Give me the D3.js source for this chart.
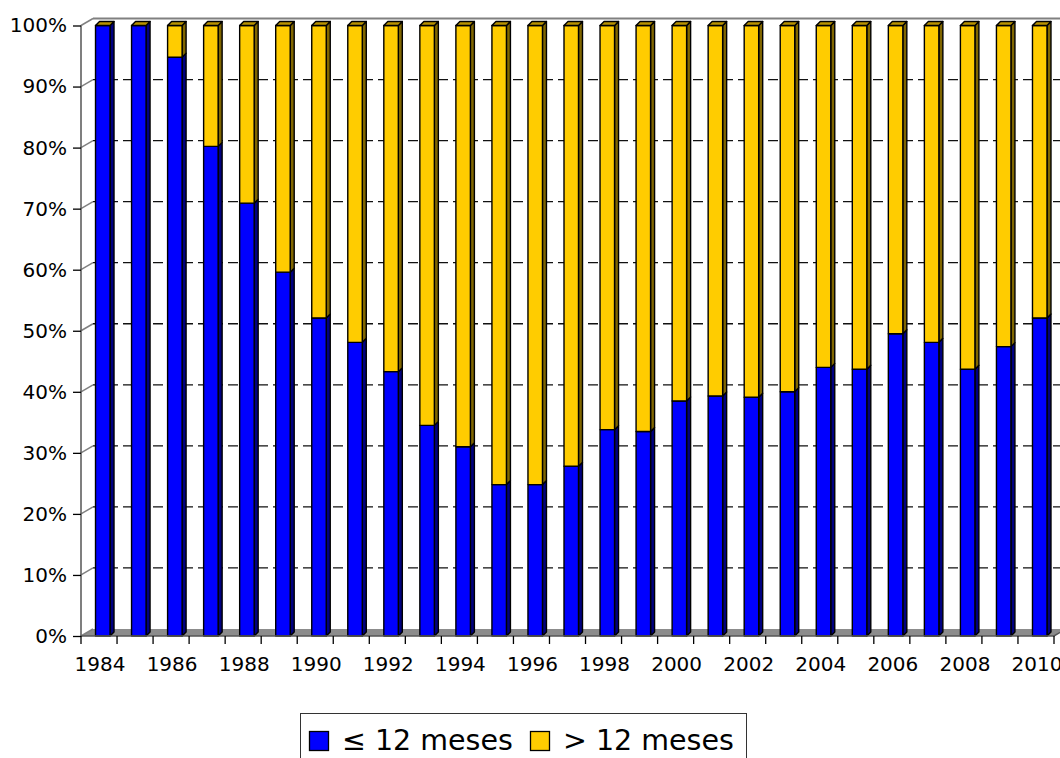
<!DOCTYPE html>
<html>
<head>
<meta charset="utf-8">
<script src="https://cdn.jsdelivr.net/npm/d3@7"></script>
<style>
  body { margin: 0; background: #fff; }
  svg text { font-family: "DejaVu Sans", Verdana, sans-serif; fill: #000; }
</style>
</head>
<body>
<div class="svg_container"></div>
<script>
// data (share of cases, %)
var years = [1984, 1985, 1986, 1987, 1988, 1989, 1990, 1991, 1992, 1993, 1994, 1995, 1996, 1997,
             1998, 1999, 2000, 2001, 2002, 2003, 2004, 2005, 2006, 2007, 2008, 2009, 2010];
var upTo12 = [100, 100, 94.8, 80.2, 70.9, 59.6, 52.1, 48.1, 43.3, 34.5, 31.0, 24.8, 24.8, 27.8,
              33.8, 33.5, 38.5, 39.3, 39.1, 40.0, 44.0, 43.7, 49.5, 48.1, 43.7, 47.4, 52.1];
var seriesNames = ["\u2264 12 meses", "> 12 meses"];
var yTicks = [0, 10, 20, 30, 40, 50, 60, 70, 80, 90, 100];

const WIDTH = 1060;
const HEIGHT = 758;
const LEFT = 81, RIGHT = 1054, TOP = 25.5, BOTTOM = 636;
const DX = 12, DY = -7;        // wall depth
const BX = 4, BY = -4;         // bar depth
const BAR_W = 14.5;

var colors = {
  blue: "#0000ff", blueSide: "#000080",
  yellow: "#ffcc00", yellowSide: "#806600", yellowTop: "#b89200"
};

var translate = function (x, y) {
  return "translate(" + x + "," + y + ")";
};

var _xScale = d3.scaleBand().domain(years).range([LEFT, RIGHT]).padding(0);
var _yScale = d3.scaleLinear().domain([0, 100]).range([BOTTOM, TOP]);

var pts = function (arr) {
  return arr.map(function (p) { return p[0] + "," + p[1]; }).join(" ");
};

var drawWalls = function (svg) {
  var g = svg.append("g").attr("class", "walls");

  // floor
  g.append("polygon")
    .attr("points", pts([[LEFT, BOTTOM], [RIGHT, BOTTOM], [RIGHT + DX, BOTTOM + DY], [LEFT + DX, BOTTOM + DY]]))
    .attr("fill", "#8c8c8c");

  // dashed gridlines on the back wall
  g.selectAll(".grid").data(yTicks.filter(function (d) { return d > 0 && d < 100; }))
    .enter().append("line")
    .attr("x1", LEFT + DX).attr("x2", WIDTH)
    .attr("y1", function (d) { return _yScale(d) + DY; })
    .attr("y2", function (d) { return _yScale(d) + DY; })
    .attr("stroke", "#111").attr("stroke-width", 1.3)
    .attr("stroke-dasharray", "10,5");

  // left wall slants
  g.selectAll(".slant").data(yTicks)
    .enter().append("line")
    .attr("x1", LEFT).attr("x2", LEFT + DX)
    .attr("y1", function (d) { return _yScale(d); })
    .attr("y2", function (d) { return _yScale(d) + DY; })
    .attr("stroke", "#808080").attr("stroke-width", 1.5);

  // back wall top edge
  g.append("line")
    .attr("x1", LEFT + DX).attr("x2", WIDTH)
    .attr("y1", _yScale(100) + DY).attr("y2", _yScale(100) + DY)
    .attr("stroke", "#808080").attr("stroke-width", 2);
};

var drawBars = function (svg) {
  var g = svg.append("g").attr("class", "bars")
    .attr("stroke", "#000").attr("stroke-width", 1.4).attr("stroke-linejoin", "round");

  var bars = g.selectAll(".bar").data(years).enter().append("g").attr("class", "bar");

  bars.each(function (year, i) {
    var b = d3.select(this);
    var x0 = _xScale(year) + _xScale.bandwidth() / 2 - 3.5;
    var x1 = x0 + BAR_W;
    var y0 = _yScale(0);
    var yb = _yScale(upTo12[i]);
    var yt = _yScale(100);

    // blue segment
    b.append("polygon").attr("points", pts([[x1, y0], [x1 + BX, y0 + BY], [x1 + BX, yb + BY], [x1, yb]]))
      .attr("fill", colors.blueSide);
    b.append("rect").attr("x", x0).attr("y", yb).attr("width", BAR_W).attr("height", y0 - yb)
      .attr("fill", colors.blue);

    // yellow segment
    if (upTo12[i] < 100) {
      b.append("polygon").attr("points", pts([[x1, yb], [x1 + BX, yb + BY], [x1 + BX, yt + BY], [x1, yt]]))
        .attr("fill", colors.yellowSide);
      b.append("rect").attr("x", x0).attr("y", yt).attr("width", BAR_W).attr("height", yb - yt)
        .attr("fill", colors.yellow);
    }
    b.append("polygon").attr("points", pts([[x0, yt], [x1, yt], [x1 + BX, yt + BY], [x0 + BX, yt + BY]]))
      .attr("fill", colors.yellowTop);
  });
};

var loadAxis = function (svg) {
  // front axis lines
  svg.append("path")
    .attr("d", "M" + LEFT + "," + _yScale(100) + "V" + BOTTOM + "H" + RIGHT + "L" + (RIGHT + DX) + "," + (BOTTOM + DY))
    .attr("fill", "none").attr("stroke", "#555").attr("stroke-width", 1.5);

  var yAxis = d3.axisLeft(_yScale)
    .tickValues(yTicks)
    .tickSize(8)
    .tickPadding(6)
    .tickFormat(function (d) { return d + "%"; });

  var ya = svg.append("g").attr("transform", translate(LEFT, 0)).call(yAxis);
  ya.select(".domain").remove();
  ya.selectAll("line").attr("stroke", "#000").attr("stroke-width", 1.3);
  ya.selectAll("text").attr("font-size", "20px").attr("fill", "#000")
    .style("font-family", "'DejaVu Sans', Verdana, sans-serif");

  // boundary ticks on the category axis
  var bounds = years.map(function (y) { return _xScale(y); }).concat([RIGHT]);
  svg.append("g").selectAll("line").data(bounds).enter().append("line")
    .attr("x1", function (d) { return d; }).attr("x2", function (d) { return d; })
    .attr("y1", BOTTOM).attr("y2", BOTTOM + 8)
    .attr("stroke", "#000").attr("stroke-width", 1.3);

  var xAxis = d3.axisBottom(_xScale)
    .tickSize(0)
    .tickPadding(0)
    .tickFormat(function (d, i) { return i % 2 === 0 ? d : ""; });

  var xa = svg.append("g").attr("transform", translate(1, BOTTOM)).call(xAxis);
  xa.select(".domain").remove();
  xa.selectAll("text").attr("font-size", "20px").attr("fill", "#000")
    .attr("y", 35).attr("dy", null)
    .style("font-family", "'DejaVu Sans', Verdana, sans-serif");
};

var drawLegend = function (svg) {
  var g = svg.append("g").attr("class", "legend");
  g.append("rect")
    .attr("x", 300.5).attr("y", 713.5).attr("width", 446).attr("height", 60)
    .attr("fill", "#fff").attr("stroke", "#333").attr("stroke-width", 1);

  var items = [
    { name: seriesNames[0], color: colors.blue, x: 309.5, tx: 342 },
    { name: seriesNames[1], color: colors.yellow, x: 530.5, tx: 563 }
  ];
  var it = g.selectAll(".item").data(items).enter().append("g");
  it.append("rect")
    .attr("x", function (d) { return d.x; }).attr("y", 731.5)
    .attr("width", 19).attr("height", 19)
    .attr("fill", function (d) { return d.color; })
    .attr("stroke", "#000").attr("stroke-width", 1.3);
  it.append("text")
    .attr("x", function (d) { return d.tx; }).attr("y", 750)
    .attr("font-size", "28.5px")
    .text(function (d) { return d.name; });
};

var loadDefault = function () {
  var svg = d3.select(".svg_container").append("svg")
    .attr("width", WIDTH)
    .attr("height", HEIGHT);

  drawWalls(svg);
  drawBars(svg);
  loadAxis(svg);
  drawLegend(svg);
};

window.onload = loadDefault;
</script>
</body>
</html>
